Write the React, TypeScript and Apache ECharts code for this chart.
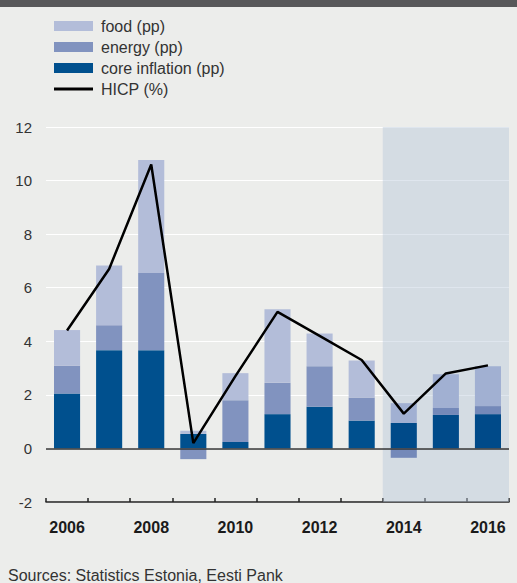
import React, { useEffect, useRef } from "react";
import * as echarts from "echarts";

const years = ["2006", "2007", "2008", "2009", "2010", "2011", "2012", "2013", "2014", "2015", "2016"];
const coreInflation = [2.05, 3.67, 3.67, 0.54, 0.24, 1.28, 1.56, 1.04, 0.95, 1.25, 1.28];
const energy = [1.04, 0.93, 2.88, -0.4, 1.56, 1.17, 1.51, 0.86, -0.35, 0.26, 0.3];
const food = [1.33, 2.23, 4.22, 0.12, 1.01, 2.75, 1.22, 1.38, 0.74, 1.26, 1.49];
const hicp = [4.4, 6.7, 10.6, 0.2, 2.7, 5.1, 4.2, 3.3, 1.3, 2.8, 3.1];
const forecastStart = 8; // index of 2014
const yTicks = { min: -2, max: 12, interval: 2 };

const FONT = "'Liberation Sans', Arial, sans-serif";
const BG = "#ecedeb";

const colors = {
  food: "#b3bdd9",
  energy: "#8193bf",
  core: "#00508e",
};
const shadedColors = {
  food: "#a1b0d2",
  energy: "#7489b9",
  core: "#004a89",
};

function toData(values: number[], key: "food" | "energy" | "core") {
  return values.map((v, i) =>
    i >= forecastStart ? { value: v, itemStyle: { color: shadedColors[key] } } : v
  );
}

export default function App() {
  const ref = useRef<HTMLDivElement>(null);

  useEffect(() => {
    document.body.style.margin = "0";
    document.body.style.background = BG;
    if (!ref.current) return;
    const chart = echarts.init(ref.current, undefined, { renderer: "svg" });
    const barWidth = "62%";
    chart.setOption({
      animation: false,
      backgroundColor: BG,
      textStyle: { fontFamily: FONT },
      graphic: [
        {
          type: "rect",
          shape: { x: 0, y: 0, width: 517, height: 7 },
          style: { fill: "#58585a" },
          silent: true,
        },
        {
          type: "text",
          x: 8,
          y: 575,
          style: {
            text: "Sources: Statistics Estonia, Eesti Pank",
            fontFamily: FONT,
            fontSize: 16,
            fill: "#333",
            verticalAlign: "middle",
          },
          silent: true,
        },
      ],
      legend: {
        orient: "vertical",
        left: 49,
        top: 13,
        itemWidth: 39,
        itemHeight: 10,
        itemGap: 5,
        icon: "rect",
        textStyle: { fontSize: 16, color: "#333", fontFamily: FONT, padding: [0, 0, 0, 3] },
        data: [
          { name: "food (pp)", icon: "rect" },
          { name: "energy (pp)", icon: "rect" },
          { name: "core inflation (pp)", icon: "rect" },
          { name: "HICP (%)", icon: "path://M0,4 L39,4 L39,7 L0,7 Z" },
        ],
        selectedMode: false,
      },
      grid: { left: 46, right: 8, top: 127, bottom: 81 },
      xAxis: [
        {
          type: "category",
          data: years,
          boundaryGap: true,
          axisLine: { onZero: false, lineStyle: { color: "#222", width: 1.5 } },
          axisTick: { show: true, inside: true, length: 4, interval: 0, lineStyle: { color: "#222", width: 1.5 } },
          axisLabel: {
            interval: 1,
            fontSize: 16,
            fontWeight: "bold",
            color: "#1a1a1a",
            margin: 17,
            fontFamily: FONT,
          },
          splitLine: { show: false },
        },
        {
          type: "value",
          min: 0,
          max: years.length,
          show: false,
        },
      ],
      yAxis: {
        type: "value",
        min: yTicks.min,
        max: yTicks.max,
        interval: yTicks.interval,
        axisLine: { show: false },
        axisTick: { show: false },
        axisLabel: { fontSize: 15, color: "#333", margin: 14, fontFamily: FONT },
        splitLine: { show: true, lineStyle: { color: "#ffffff", width: 1 } },
      },
      series: [
        {
          name: "shade",
          type: "scatter",
          xAxisIndex: 1,
          data: [],
          symbolSize: 0,
          silent: true,
          markArea: {
            silent: true,
            itemStyle: { color: "rgba(183,199,217,0.45)" },
            data: [[{ xAxis: forecastStart }, { xAxis: years.length }]],
          },
        },
        {
          name: "core inflation (pp)",
          type: "bar",
          stack: "total",
          barWidth,
          itemStyle: { color: colors.core },
          data: toData(coreInflation, "core"),
          markLine: {
            silent: true,
            symbol: ["none", "none"],
            label: { show: false },
            lineStyle: { color: "#333", width: 1.5, type: "solid" },
            data: [{ yAxis: 0 }],
          },
        },
        {
          name: "energy (pp)",
          type: "bar",
          stack: "total",
          barWidth,
          itemStyle: { color: colors.energy },
          data: toData(energy, "energy"),
        },
        {
          name: "food (pp)",
          type: "bar",
          stack: "total",
          barWidth,
          itemStyle: { color: colors.food },
          data: toData(food, "food"),
        },
        {
          name: "HICP (%)",
          type: "line",
          data: hicp,
          symbol: "none",
          z: 10,
          itemStyle: { color: "#000" },
          lineStyle: { color: "#000", width: 2.5 },
        },
      ],
    });
    return () => chart.dispose();
  }, []);

  return <div ref={ref} style={{ width: 517, height: 583, background: BG }} />;
}
